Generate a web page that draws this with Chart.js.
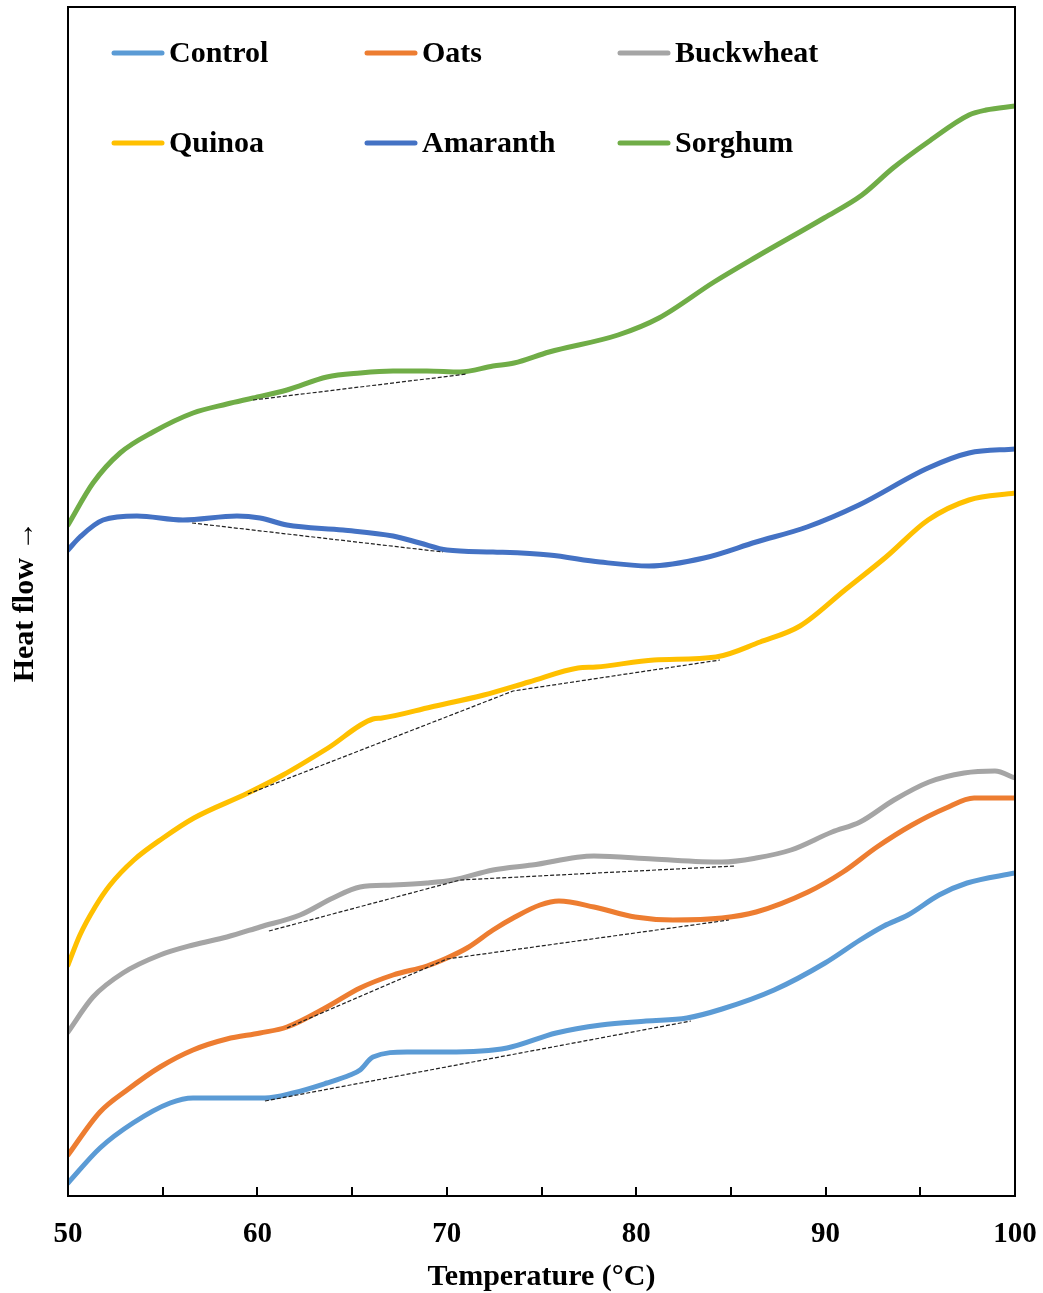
<!DOCTYPE html>
<html>
<head>
<meta charset="utf-8">
<script src="https://cdn.jsdelivr.net/npm/chart.js@4"></script>
<style>
  html, body { margin: 0; padding: 0; background: #fff; }
  #wrap { width: 1043px; height: 1293px; }
</style>
</head>
<body>
<div id="wrap"><canvas id="c" width="1043" height="1293"></canvas></div>
<script>
// Temperature (°C) and heat flow (arbitrary units)
const controlT  = [50, 51.69, 53.43, 55.39, 56.60, 58.39, 60.40, 61.88, 63.67, 64.89, 65.42, 66.10, 67.90, 70.01, 73.18, 75.77, 78.14, 80.52, 82.68, 84.53, 87.28, 89.97, 91.82, 93.08, 94.35, 95.99, 97.47, 100];
const controlHF = [1.3, 4.8, 7.3, 9.3, 9.8, 9.8, 9.8, 10.3, 11.3, 12.1, 12.6, 13.9, 14.4, 14.4, 14.8, 16.3, 17.1, 17.5, 17.8, 18.7, 20.6, 23.3, 25.6, 27.0, 28.1, 30.1, 31.3, 32.3];

const oatsT  = [50, 51.69, 53.12, 54.86, 56.60, 58.39, 60.14, 61.56, 63.67, 65.42, 67.16, 68.95, 70.01, 71.07, 72.44, 73.60, 74.92, 75.92, 77.77, 79.94, 81.94, 84.53, 86.33, 89.07, 90.92, 92.71, 94.56, 96.36, 97.84, 100];
const oatsHF = [4.1, 8.4, 10.6, 12.9, 14.6, 15.7, 16.3, 16.9, 18.9, 20.8, 22.1, 23.0, 23.8, 24.8, 26.6, 27.9, 29.1, 29.5, 28.9, 27.9, 27.6, 27.8, 28.4, 30.4, 32.4, 34.9, 37.1, 38.8, 39.8, 39.8];

const buckwheatT  = [50, 51.32, 52.90, 54.86, 56.60, 58.39, 60.14, 62.25, 63.99, 65.42, 67.16, 68.95, 70.33, 72.44, 74.50, 77.77, 80.89, 84.53, 86.33, 88.17, 90.34, 91.82, 93.61, 95.46, 97.31, 98.94, 100];
const buckwheatHF = [16.4, 19.9, 22.3, 24.1, 25.1, 25.9, 26.9, 28.1, 29.8, 30.9, 31.1, 31.3, 31.6, 32.6, 33.1, 34.0, 33.7, 33.4, 33.8, 34.6, 36.4, 37.4, 39.6, 41.4, 42.3, 42.5, 41.8];

const quinoaT  = [50, 50.63, 51.43, 52.22, 53.48, 55.02, 56.65, 59.50, 61.35, 63.73, 66.10, 66.58, 69.17, 71.96, 74.34, 76.93, 77.88, 80.94, 84.21, 86.54, 88.65, 91.02, 93.19, 95.41, 97.57, 100];
const quinoaHF = [23.1, 26.1, 28.9, 31.1, 33.6, 35.8, 37.8, 40.3, 42.1, 44.8, 47.7, 47.8, 48.9, 50.1, 51.4, 52.8, 52.9, 53.6, 53.9, 55.4, 57.0, 60.6, 63.9, 67.6, 69.6, 70.3];

const amaranthT  = [50, 50.63, 51.85, 53.64, 56.07, 58.92, 60.14, 61.56, 64.52, 67.16, 68.58, 70.01, 72.44, 75.40, 78.09, 80.68, 83.58, 86.33, 89.02, 91.76, 95.41, 97.57, 100];
const amaranthHF = [64.6, 65.9, 67.6, 68.0, 67.6, 68.0, 67.8, 67.1, 66.6, 66.0, 65.3, 64.6, 64.4, 64.1, 63.4, 63.0, 63.8, 65.4, 66.9, 69.1, 72.8, 74.3, 74.7];

const sorghumT  = [50, 51.32, 52.75, 54.49, 56.60, 58.39, 59.77, 61.56, 63.67, 65.42, 67.16, 68.95, 70.70, 72.44, 73.55, 75.40, 79.04, 81.20, 84.11, 86.33, 89.92, 91.92, 93.56, 95.41, 97.57, 98.47, 100];
const sorghumHF = [67.1, 71.3, 74.3, 76.4, 78.3, 79.2, 79.8, 80.6, 81.9, 82.3, 82.5, 82.5, 82.4, 83.0, 83.3, 84.4, 86.1, 87.8, 91.4, 93.9, 97.8, 100.1, 102.8, 105.4, 108.1, 108.6, 109.0];

// Dashed baselines (tangent constructions)
const controlBaseT = [60.40, 82.89],        controlBaseHF = [9.5, 17.5];
const oatsBaseT = [61.56, 70.01, 84.90],    oatsBaseHF = [16.8, 23.7, 27.6];
const buckwheatBaseT = [60.61, 70.70, 85.22], buckwheatBaseHF = [26.5, 31.6, 33.0];
const quinoaBaseT = [59.50, 73.50, 84.42],  quinoaBaseHF = [40.2, 50.5, 53.6];
const amaranthBaseT = [56.55, 69.80],       amaranthBaseHF = [67.3, 64.4];
const sorghumBaseT = [59.77, 71.07],        sorghumBaseHF = [79.6, 82.2];

const seriesNames = ['Control', 'Oats', 'Buckwheat', 'Quinoa', 'Amaranth', 'Sorghum'];
const seriesColors = ['#5B9BD5', '#ED7D31', '#A5A5A5', '#FFC000', '#4472C4', '#70AD47'];
const xTickLabels = [50, 60, 70, 80, 90, 100];

const pts = (t, h) => t.map((v, i) => ({x: v, y: h[i]}));
const curves = [
  pts(controlT, controlHF), pts(oatsT, oatsHF), pts(buckwheatT, buckwheatHF),
  pts(quinoaT, quinoaHF), pts(amaranthT, amaranthHF), pts(sorghumT, sorghumHF)
];
const baselines = [
  pts(controlBaseT, controlBaseHF), pts(oatsBaseT, oatsBaseHF), pts(buckwheatBaseT, buckwheatBaseHF),
  pts(quinoaBaseT, quinoaBaseHF), pts(amaranthBaseT, amaranthBaseHF), pts(sorghumBaseT, sorghumBaseHF)
];

const datasets = [];
baselines.forEach((d, i) => datasets.push({
  label: seriesNames[i] + ' baseline', data: d, isBaseline: true,
  borderColor: '#222', borderWidth: 1.2, borderDash: [4, 2],
  pointRadius: 0, tension: 0, fill: false
}));
curves.forEach((d, i) => datasets.push({
  label: seriesNames[i], data: d,
  borderColor: seriesColors[i], backgroundColor: seriesColors[i],
  borderWidth: 5, pointRadius: 0, cubicInterpolationMode: 'monotone', fill: false,
  borderCapStyle: 'round', borderJoinStyle: 'round'
}));

const FONT = "'Liberation Serif', 'Times New Roman', serif";

const framePlugin = {
  id: 'frame',
  afterDatasetsDraw(chart) {
    const {ctx, chartArea: a} = chart;
    const xs = chart.scales.x;
    ctx.save();
    ctx.strokeStyle = '#000';
    ctx.lineWidth = 2;
    ctx.strokeRect(a.left, a.top, a.right - a.left, a.bottom - a.top);
    // inward tick marks every 5 °C
    xs.ticks.forEach(t => {
      const px = Math.round(xs.getPixelForValue(t.value));
      ctx.beginPath();
      ctx.moveTo(px, a.bottom);
      ctx.lineTo(px, a.bottom - 9);
      ctx.stroke();
    });
    ctx.restore();
  }
};

const legendPlugin = {
  id: 'innerLegend',
  afterDraw(chart) {
    const {ctx, chartArea: a} = chart;
    const items = chart.data.datasets.filter(d => !d.isBaseline);
    ctx.save();
    ctx.font = 'bold 30px ' + FONT;
    ctx.textBaseline = 'middle';
    ctx.textAlign = 'left';
    items.forEach((d, i) => {
      const col = i % 3, row = Math.floor(i / 3);
      const x0 = a.left + 44 + col * 253;
      const y0 = a.top + 46 + row * 90;
      ctx.strokeStyle = d.borderColor;
      ctx.lineWidth = 5;
      ctx.lineCap = 'round';
      ctx.beginPath();
      ctx.moveTo(x0 + 2, y0);
      ctx.lineTo(x0 + 50, y0);
      ctx.stroke();
      ctx.fillStyle = '#000';
      ctx.fillText(d.label, x0 + 57, y0 + 1);
    });
    ctx.restore();
  }
};

new Chart(document.getElementById('c'), {
  type: 'line',
  data: { datasets },
  options: {
    responsive: false,
    animation: false,
    events: [],
    layout: { padding: { top: 7, right: 28, left: 0, bottom: 0 } },
    plugins: { legend: { display: false }, tooltip: { enabled: false } },
    scales: {
      x: {
        type: 'linear', min: 50, max: 100,
        grid: { display: false, drawTicks: false },
        border: { display: false },
        ticks: {
          stepSize: 5, padding: 21, color: '#000', maxRotation: 0, autoSkip: false,
          font: { family: FONT, size: 29, weight: 'bold' },
          callback: v => xTickLabels.includes(v) ? String(v) : ''
        },
        title: {
          display: true, text: 'Temperature (°C)', color: '#000',
          font: { family: FONT, size: 30, weight: 'bold', lineHeight: 1 },
          padding: { top: 0, bottom: 1 }
        },
        afterFit(s) { s.height = 97; s.paddingLeft = 0; s.paddingRight = 0; }
      },
      y: {
        type: 'linear', min: 0, max: 118.9,
        grid: { display: false, drawTicks: false },
        border: { display: false },
        ticks: { display: false },
        title: {
          display: true, text: 'Heat flow \u2192', color: '#000',
          font: { family: FONT, size: 30, weight: 'bold', lineHeight: 1 },
          padding: { top: 10, bottom: 0 }
        },
        afterFit(s) { s.width = 68; s.paddingTop = 0; s.paddingBottom = 0; }
      }
    }
  },
  plugins: [framePlugin, legendPlugin]
});
</script>
</body>
</html>
